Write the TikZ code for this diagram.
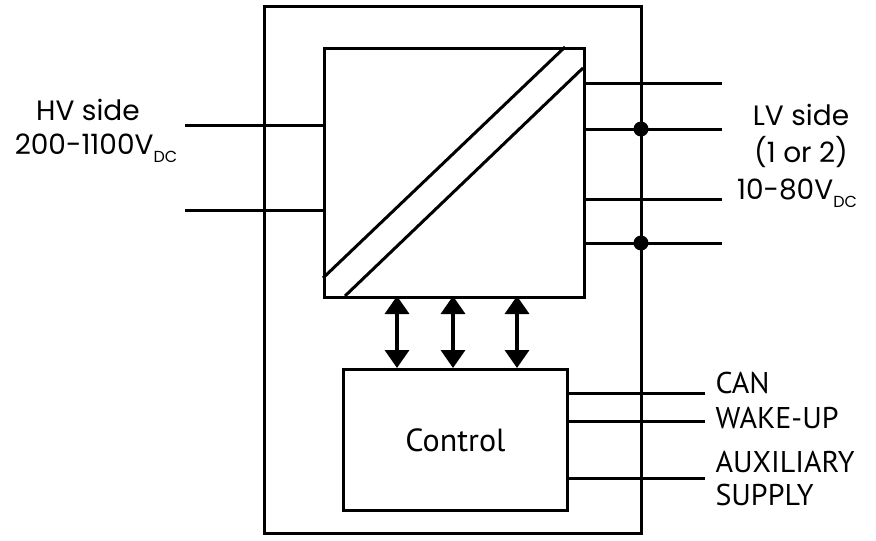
\documentclass[tikz,border=0pt]{standalone}
\usepackage{fontspec}
\setmainfont{Poppins}
\newfontfamily\dinf{PT Sans}
\usetikzlibrary{arrows.meta}
\newcommand{\mysub}[1]{\raisebox{-0.3em}{\fontsize{16}{17}\selectfont #1}}
\begin{document}
\begin{tikzpicture}[x=1pt,y=-1pt,line width=3pt,
  lbl/.style={font=\fontsize{28}{30}\selectfont,inner sep=0pt},
  sig/.style={font=\dinf\fontsize{30}{32}\selectfont,inner sep=0pt,anchor=west},
  dot/.style={circle,fill,inner sep=0pt,minimum size=15pt},
  arr/.style={{Triangle[length=18pt,width=24pt]}-{Triangle[length=18pt,width=24pt]},line width=3.5pt}]
\useasboundingbox (0,0) rectangle (876,541);
\draw (264,6) rectangle (641,533);
\node[draw,minimum width=260pt,minimum height=249pt,inner sep=0pt,anchor=north west] (conv) at (323,47) {};
\draw (323,278) -- (565,47);
\draw (345,296) -- (583,68);
\node[draw,minimum width=224pt,minimum height=141pt,inner sep=0pt,anchor=north west,font=\dinf\fontsize{32}{34}\selectfont] (ctl) at (342,368) {Control};
\foreach \x in {397,453,517}{
  \coordinate (t\x) at (\x,296); \coordinate (b\x) at (\x,368);
  \draw[arr] (t\x) -- (b\x);}
\foreach \y in {125,210}{\coordinate (h\y) at (185,\y); \coordinate (hc\y) at (323,\y); \draw (h\y) -- (hc\y);}
\foreach \y in {83,129,199,243}{\coordinate (l\y) at (583,\y); \coordinate (le\y) at (722,\y); \draw (l\y) -- (le\y);}
\node[dot] (d1) at (641,129) {};
\node[dot] (d2) at (641,243) {};
\foreach \y in {393,421,478}{\coordinate (c\y) at (566,\y); \coordinate (ce\y) at (705,\y); \draw (c\y) -- (ce\y);}
\node[lbl] (hv1) at (88,110) {HV side};
\node[lbl] (hv2) at (96,148) {200-1100V\mysub{DC}};
\node[lbl] (lv1) at (801,115) {LV side};
\node[lbl] (lv2) at (801,152) {(1 or 2)};
\node[lbl] (lv3) at (797,193) {10-80V\mysub{DC}};
\node[sig] (can) at (714,383) {CAN};
\node[sig] (wake) at (714,418) {WAKE-UP};
\node[sig] (aux) at (714,462) {AUXILIARY};
\node[sig] (sup) at (714,495) {SUPPLY};
\end{tikzpicture}
\end{document}
